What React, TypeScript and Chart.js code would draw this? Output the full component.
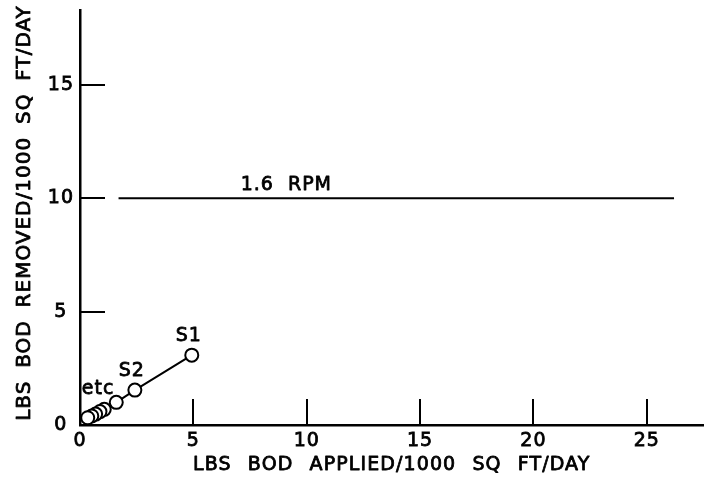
import React, { useEffect, useRef } from "react";
import { Chart, registerables } from "chart.js";

Chart.register(...registerables);

// Data
const appliedLoad = [4.93, 2.42, 1.6, 1.07, 0.88, 0.69, 0.52, 0.34];
const removedLoad = [3.08, 1.54, 1.0, 0.69, 0.59, 0.48, 0.4, 0.32];
const pointNames = ["S1", "S2", "", "", "", "", "", ""];
const etcLabel = "etc";
const etcAt = [0.8, 1.6];

const rpmLineX = [1.7, 26.2];
const rpmLineY = [10, 10];
const rpmLabel = "1.6 RPM";
const rpmLabelX = 9.1;

const xTicks = [0, 5, 10, 15, 20, 25];
const yTicks = [0, 5, 10, 15];
const xMax = 27.5;
const yMax = 18.3;

const xTitle = "LBS BOD APPLIED/1000 SQ FT/DAY";
const yTitle = "LBS BOD REMOVED/1000 SQ FT/DAY";

const FONT = "'DejaVu Sans', sans-serif";
const STROKE = 0.8;

function boldText(ctx: CanvasRenderingContext2D, text: string, x: number, y: number) {
  ctx.fillText(text, x, y);
  ctx.strokeText(text, x, y);
}

const draftPlugin = {
  id: "draft",
  beforeDraw(chart: any) {
    chart.ctx.letterSpacing = "1px";
    chart.ctx.wordSpacing = "7px";
  },
  afterDraw(chart: any) {
    const ctx = chart.ctx as CanvasRenderingContext2D;
    const xs = chart.scales.x;
    const ys = chart.scales.y;
    const area = chart.chartArea;
    ctx.save();
    ctx.strokeStyle = "#000";
    ctx.lineWidth = 2;
    ctx.beginPath();
    xTicks.forEach((v) => {
      if (v === 0) return;
      const px = Math.round(xs.getPixelForValue(v));
      ctx.moveTo(px, area.bottom);
      ctx.lineTo(px, area.bottom - 26);
    });
    yTicks.forEach((v) => {
      if (v === 0) return;
      const py = Math.round(ys.getPixelForValue(v));
      ctx.moveTo(area.left, py);
      ctx.lineTo(area.left + 25, py);
    });
    ctx.stroke();

    ctx.fillStyle = "#000";
    ctx.lineWidth = STROKE;
    ctx.lineJoin = "round";
    ctx.letterSpacing = "1px";
    ctx.wordSpacing = "7px";
    ctx.font = `19px ${FONT}`;
    ctx.textAlign = "center";
    ctx.textBaseline = "middle";
    appliedLoad.forEach((v, i) => {
      const name = pointNames[i];
      if (!name) return;
      const px = xs.getPixelForValue(v);
      const py = ys.getPixelForValue(removedLoad[i]);
      boldText(ctx, name, px - 3, py - 19);
    });
    boldText(ctx, etcLabel, xs.getPixelForValue(etcAt[0]), ys.getPixelForValue(etcAt[1]));
    boldText(ctx, rpmLabel, xs.getPixelForValue(rpmLabelX), ys.getPixelForValue(rpmLineY[0]) - 13);

    // axis titles
    ctx.letterSpacing = "1.1px";
    ctx.wordSpacing = "9px";
    ctx.font = `19px ${FONT}`;
    boldText(ctx, xTitle, (area.left + area.right) / 2, 465);

    ctx.save();
    ctx.translate(25, 213);
    ctx.rotate(-Math.PI / 2);
    ctx.letterSpacing = "1px";
    ctx.wordSpacing = "5.5px";
    ctx.font = `20px ${FONT}`;
    boldText(ctx, yTitle, 0, 0);
    ctx.restore();

    ctx.restore();
  },
};

export default function App() {
  const ref = useRef<HTMLCanvasElement | null>(null);
  useEffect(() => {
    if (!ref.current) return;
    const chart = new Chart(ref.current, {
      type: "scatter",
      data: {
        datasets: [
          {
            data: appliedLoad.map((x, i) => ({ x, y: removedLoad[i] })),
            showLine: true,
            borderColor: "#000",
            borderWidth: 2,
            backgroundColor: "#fff",
            pointRadius: 6.5,
            pointBorderWidth: 2,
            pointBackgroundColor: "#fff",
            pointBorderColor: "#000",
          },
          {
            data: rpmLineX.map((x, i) => ({ x, y: rpmLineY[i] })),
            showLine: true,
            borderColor: "#000",
            borderWidth: 2,
            pointRadius: 0,
          },
        ],
      },
      options: {
        responsive: false,
        animation: false,
        layout: { padding: { top: 10, right: 7, left: 0, bottom: 0 } },
        plugins: { legend: { display: false }, tooltip: { enabled: false } },
        scales: {
          x: {
            type: "linear",
            min: 0,
            max: xMax,
            afterBuildTicks: (s: any) => {
              s.ticks = xTicks.map((value) => ({ value }));
            },
            afterFit: (s: any) => {
              s.height = 53;
              s.paddingLeft = 0;
              s.paddingRight = 0;
            },
            grid: { display: false, drawTicks: false },
            border: { display: true, color: "#000", width: 2.5 },
            ticks: {
              color: "#000",
              padding: 5,
              maxRotation: 0,
              textStrokeColor: "#000",
              textStrokeWidth: STROKE,
              font: { family: FONT, size: 19 },
            },
            title: { display: false, text: xTitle },
          },
          y: {
            type: "linear",
            min: 0,
            max: yMax,
            afterBuildTicks: (s: any) => {
              s.ticks = yTicks.map((value) => ({ value }));
            },
            afterFit: (s: any) => {
              s.width = 80;
              s.paddingTop = 0;
              s.paddingBottom = 0;
            },
            grid: { display: false, drawTicks: false },
            border: { display: true, color: "#000", width: 2.5 },
            ticks: {
              color: "#000",
              padding: 7,
              crossAlign: "center",
              textStrokeColor: "#000",
              textStrokeWidth: STROKE,
              font: { family: FONT, size: 19 },
            },
            title: { display: false, text: yTitle },
          },
        },
      },
      plugins: [draftPlugin],
    });
    return () => chart.destroy();
  }, []);
  return (
    <div style={{ position: "fixed", left: 0, top: 0, width: 712, height: 478, background: "#fff" }}>
      <canvas ref={ref} width={712} height={478} style={{ display: "block" }} />
    </div>
  );
}
